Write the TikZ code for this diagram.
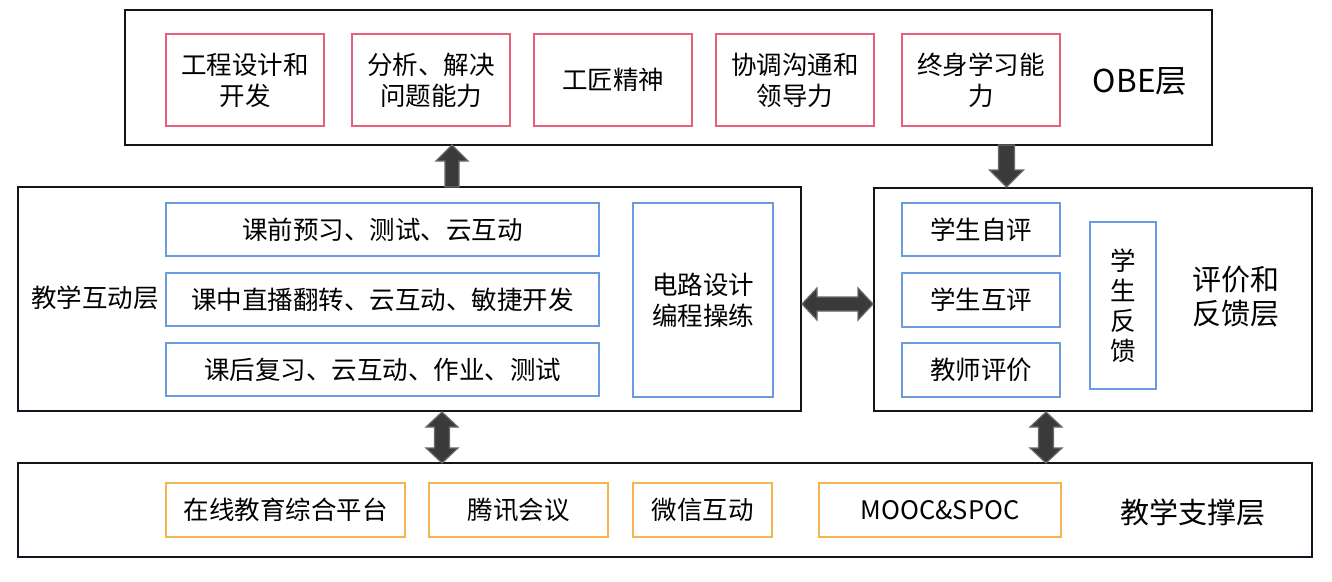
\documentclass[tikz,border=0pt]{standalone}
\usepackage{fontspec}
\setmainfont{Noto Sans CJK SC}
\definecolor{outerc}{HTML}{14141F}
\definecolor{redc}{HTML}{E8617A}
\definecolor{bluec}{HTML}{6A9BE0}
\definecolor{orangec}{HTML}{F6B44F}
\definecolor{arrfill}{HTML}{3A3A3A}
\definecolor{arrline}{HTML}{6A6A6A}
\newcommand{\vupar}[3]{% x, tail y, tip y (tip above)
  \filldraw[blockarrow] ({#1-7},{#2}) -- ({#1-7},{#3+16}) -- ({#1-16},{#3+16}) -- ({#1},{#3}) -- ({#1+16},{#3+16}) -- ({#1+7},{#3+16}) -- ({#1+7},{#2}) -- cycle;}
\newcommand{\vdownar}[3]{% x, tail y, tip y (tip below)
  \filldraw[blockarrow] ({#1-8},{#2}) -- ({#1-8},{#3-17}) -- ({#1-17},{#3-17}) -- ({#1},{#3}) -- ({#1+17},{#3-17}) -- ({#1+8},{#3-17}) -- ({#1+8},{#2}) -- cycle;}
\newcommand{\vdblar}[3]{% x, top y, bottom y
  \filldraw[blockarrow] ({#1},{#2}) -- ({#1+16},{#2+15}) -- ({#1+7.5},{#2+15}) -- ({#1+7.5},{#3-15}) -- ({#1+16},{#3-15}) -- ({#1},{#3}) -- ({#1-16},{#3-15}) -- ({#1-7.5},{#3-15}) -- ({#1-7.5},{#2+15}) -- ({#1-16},{#2+15}) -- cycle;}
\newcommand{\hdblar}[3]{% y, left x, right x
  \filldraw[blockarrow] ({#2},{#1}) -- ({#2+15},{#1-16}) -- ({#2+15},{#1-7}) -- ({#3-15},{#1-7}) -- ({#3-15},{#1-16}) -- ({#3},{#1}) -- ({#3-15},{#1+16}) -- ({#3-15},{#1+7}) -- ({#2+15},{#1+7}) -- ({#2+15},{#1+16}) -- cycle;}
\tikzset{
  outerbox/.style={draw=outerc, line width=2pt, fill=white, inner sep=0pt},
  redbox/.style={draw=redc, line width=2pt, inner sep=0pt, minimum width=158, minimum height=92, align=center, font=\fontsize{25.5}{31}\selectfont},
  bluebox/.style={draw=bluec, line width=2pt, inner sep=0pt, align=center, font=\fontsize{25.5}{31}\selectfont},
  orangebox/.style={draw=orangec, line width=2pt, inner sep=0pt, minimum height=54, align=center, font=\fontsize{25.5}{31}\selectfont},
  lbl/.style={inner sep=0pt, align=center, font=\fontsize{25.5}{33}\selectfont},
  biglbl/.style={inner sep=0pt, align=center, font=\fontsize{29}{34}\selectfont},
  blockarrow/.style={fill=arrfill, draw=arrline, line width=1.2pt, line join=miter},
}
\begin{document}
\begin{tikzpicture}[x=1pt,y=-1pt]
\useasboundingbox (0,0) rectangle (1332,581);
\fill[white] (0,0) rectangle (1332,581);
% outer layers
\node[outerbox, minimum width=1087, minimum height=135] (obe) at (668.5,77.5) {};
\node[outerbox, minimum width=783, minimum height=224] (teach) at (409.5,299) {};
\node[outerbox, minimum width=438, minimum height=223] (eval) at (1093,299.5) {};
\node[outerbox, minimum width=1294, minimum height=94] (support) at (665,510) {};
% OBE layer
\node[redbox] (r1) at (245,80) {工程设计和\\开发};
\node[redbox] (r2) at (431,80) {分析、解决\\问题能力};
\node[redbox] (r3) at (613,80) {工匠精神};
\node[redbox] (r4) at (795,80) {协调沟通和\\领导力};
\node[redbox] (r5) at (981,80) {终身学习能\\力};
\node[biglbl, font=\fontsize{31.5}{36}\selectfont] (obelbl) at (1140,81) {OBE层};
% teaching interaction layer
\node[lbl] (teachlbl) at (95,298) {教学互动层};
\node[bluebox, minimum width=433, minimum height=53] (t1) at (382.5,229.5) {课前预习、测试、云互动};
\node[bluebox, minimum width=433, minimum height=53] (t2) at (382.5,299.5) {课中直播翻转、云互动、敏捷开发};
\node[bluebox, minimum width=433, minimum height=53] (t3) at (382.5,369.5) {课后复习、云互动、作业、测试};
\node[bluebox, minimum width=140, minimum height=194] (circ) at (703,300) {电路设计\\编程操练};
% evaluation layer
\node[bluebox, minimum width=158, minimum height=53] (e1) at (981,229.5) {学生自评};
\node[bluebox, minimum width=158, minimum height=54] (e2) at (981,300) {学生互评};
\node[bluebox, minimum width=158, minimum height=54] (e3) at (981,370) {教师评价};
\node[bluebox, minimum width=66, minimum height=167, font=\fontsize{25.5}{30}\selectfont] (fb) at (1123,305.5) {学\\生\\反\\馈};
\node[biglbl] (evallbl) at (1236,297) {评价和\\反馈层};
% support layer
\node[orangebox, minimum width=239] (s1) at (285.5,510) {在线教育综合平台};
\node[orangebox, minimum width=179] (s2) at (518.5,510) {腾讯会议};
\node[orangebox, minimum width=139] (s3) at (702.5,510) {微信互动};
\node[orangebox, minimum width=242] (s4) at (940,510) {MOOC\&SPOC};
\node[biglbl] (supportlbl) at (1193,512) {教学支撑层};
% block arrows
\vupar{452}{187}{145}
\vdownar{1006.5}{145}{187}
\hdblar{304}{802}{873}
\vdblar{442}{412}{463}
\vdblar{1046}{412}{463}
\end{tikzpicture}
\end{document}
